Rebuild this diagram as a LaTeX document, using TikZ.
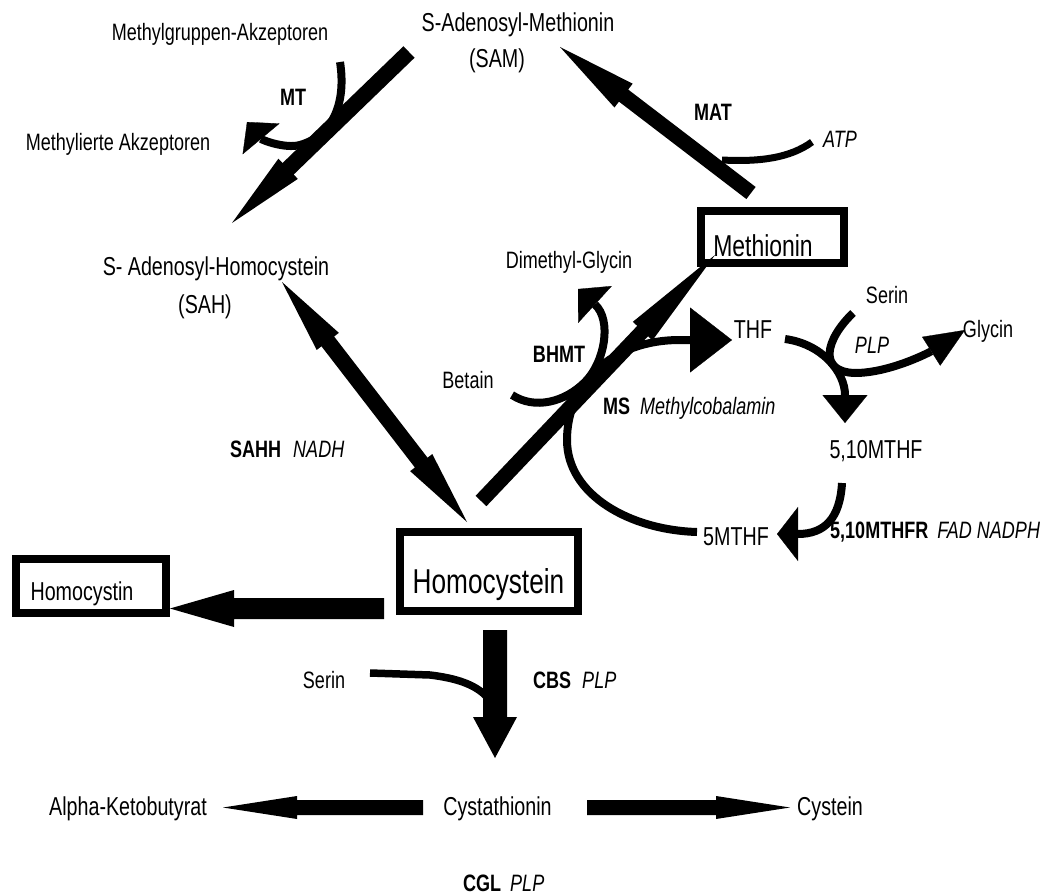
\documentclass[tikz,border=0pt]{standalone}
\usepackage{fontspec}
\setmainfont{Liberation Sans}[FakeStretch=0.76]
\usetikzlibrary{calc,arrows.meta}

% straight block arrow: tail, tip, half shaft, head length, half head width
\newcommand\barrow[5]{%
  \path ($(#2)!#4!(#1)$) coordinate (hb);
  \fill ($(#1)!#3!90:(#2)$) -- ($(hb)!#3!-90:(#1)$) -- ($(hb)!#5!-90:(#1)$) -- (#2)
     -- ($(hb)!#5!90:(#1)$) -- ($(hb)!#3!90:(#1)$) -- ($(#1)!#3!-90:(#2)$) -- cycle;}
% double block arrow: tip1, tip2, half shaft, head length, half head width
\newcommand\dbarrow[5]{%
  \path ($(#1)!#4!(#2)$) coordinate (ha) ($(#2)!#4!(#1)$) coordinate (hb);
  \fill (#1) -- ($(ha)!#5!90:(#2)$) -- ($(ha)!#3!90:(#2)$) -- ($(hb)!#3!-90:(#1)$)
     -- ($(hb)!#5!-90:(#1)$) -- (#2) -- ($(hb)!#5!90:(#1)$) -- ($(hb)!#3!90:(#1)$)
     -- ($(ha)!#3!-90:(#2)$) -- ($(ha)!#5!-90:(#2)$) -- cycle;}

\newcommand\fsmall{\fontsize{23.7}{28}\selectfont}
\newcommand\fmid{\fontsize{25.9}{30}\selectfont}

\tikzset{
  lbl/.style={inner sep=0pt, anchor=base, font=\fsmall},
  met/.style={inner sep=0pt, anchor=base, font=\fmid},
  enz/.style={inner sep=0pt, anchor=base west, font=\fsmall},
  boxed/.style={draw, line width=8pt, inner sep=0pt},
  curv/.style={line width=8pt},
  hd/.style args={#1/#2}{-{Triangle[length=#1pt,width=#2pt,line width=0.3pt]}}
}

\begin{document}
\begin{tikzpicture}[x=1pt,y=-1pt]
\useasboundingbox (0,0) rectangle (1049,896);

% ---------- boxes ----------
\node[boxed, minimum width=143pt, minimum height=52pt] (methbox) at (772.5,237) {};
\node[boxed, minimum width=178pt, minimum height=79pt] (hcybox) at (489,571.5) {};
\node[boxed, minimum width=150pt, minimum height=54pt] (hcinbox) at (91,586) {};

% ---------- texts ----------
\node[lbl] (mga) at (220,41) {Methylgruppen-Akzeptoren};
\node[met] (sam) at (518,32) {S-Adenosyl-Methionin};
\node[met] (samab) at (497,68) {(SAM)};
\node[lbl] (macc) at (118,151) {Methylierte Akzeptoren};
\node[lbl, font=\fsmall\bfseries] (mt) at (293,106) {MT};
\node[lbl, font=\fsmall\bfseries] (mat) at (713,121) {MAT};
\node[enz] (atp) at (823,148) {\itshape ATP};
\node[met] (sah) at (216,275) {S- Adenosyl-Homocystein};
\node[met] (sahab) at (205,313) {(SAH)};
\node[inner sep=0pt, anchor=base, font=\fontsize{30.2}{34}\selectfont] (meth) at (763,256) {Methionin};
\node[lbl] (dmg) at (569,268) {Dimethyl-Glycin};
\node[met] (thf) at (753,338) {THF};
\node[lbl] (serin1) at (887,303) {Serin};
\node[lbl] (glycin) at (988,337) {Glycin};
\node[lbl, font=\fsmall\itshape] (plp1) at (872,353) {PLP};
\node[lbl, font=\fsmall\bfseries] (bhmt) at (559,362) {BHMT};
\node[lbl] (betain) at (468,388) {Betain};
\node[enz] (ms) at (603,414) {\textbf{MS}\hspace{10pt}\textit{Methylcobalamin}};
\node[met] (mthf510) at (876,458) {5,10MTHF};
\node[met] (mthf5) at (736,545) {5MTHF};
\node[enz] (mthfr) at (830,538) {\textbf{5,10MTHFR}\hspace{9pt}\textit{FAD NADPH}};
\node[enz] (sahh) at (230,457) {\textbf{SAHH}\hspace{12pt}\textit{NADH}};
\node[inner sep=0pt, anchor=base, font=\fontsize{34.5}{38}\selectfont] (hcy) at (488.5,593) {Homocystein};
\node[met] (hcin) at (82,600) {Homocystin};
\node[lbl] (serin2) at (324,688) {Serin};
\node[enz] (cbs) at (533,688) {\textbf{CBS}\hspace{11pt}\textit{PLP}};
\node[met] (cysta) at (497.5,815) {Cystathionin};
\node[met, anchor=base east] (akb) at (207,815) {Alpha-Ketobutyrat};
\node[met, anchor=base west] (cys) at (797,815) {Cystein};
\node[enz] (cgl) at (463,891) {\textbf{CGL}\hspace{9pt}\textit{PLP}};

% ---------- arrow end points ----------
\coordinate (samS) at (409,52);   \coordinate (sahE) at (232,223);
\coordinate (metS) at (751,193);  \coordinate (samE) at (560,47);
\coordinate (sahT) at (282,282);  \coordinate (hcyT) at (467,522);
\coordinate (hcyS) at (481,501);  \coordinate (metE) at (715,255);
\coordinate (hcyL) at (384,608.5);\coordinate (hcinE) at (170,608.5);
\coordinate (hcyD) at (495,630);  \coordinate (cystaE) at (495,758);
\coordinate (cystaL) at (423,807.5); \coordinate (akbE) at (223,807.5);
\coordinate (cystaR) at (587,807.5); \coordinate (cysE) at (790,807.5);

% ---------- block arrows ----------
\barrow{samS}{sahE}{8pt}{78pt}{14pt}
\barrow{metS}{samE}{7.6pt}{80pt}{15pt}
\dbarrow{sahT}{hcyT}{8pt}{75pt}{14pt}
\barrow{hcyS}{metE}{7.5pt}{105pt}{13.5pt}
\barrow{hcyL}{hcinE}{10.5pt}{64pt}{18.5pt}
\barrow{hcyD}{cystaE}{12pt}{41pt}{22pt}
\barrow{cystaL}{akbE}{7.5pt}{74pt}{11.5pt}
\barrow{cystaR}{cysE}{7.5pt}{74pt}{11.5pt}

% ---------- curved side arrows ----------
\coordinate (mtS) at (340,62);   \coordinate (mtE) at (247,122);
\draw[curv, hd=22/48] (mtS) .. controls (346,100) and (335,135) .. (300,145)
   .. controls (285,149) and (262,140) .. (mtE);
\coordinate (atpS) at (812,142); \coordinate (atpE) at (722,160);
\draw[line width=7pt] (atpS) .. controls (790,158) and (760,162) .. (atpE);
\coordinate (betS) at (512,395); \coordinate (dmgE) at (578,289);
\draw[curv, hd=23/50] (betS) .. controls (535,410) and (565,402) .. (585,382)
   .. controls (605,362) and (612,320) .. (dmgE);
\coordinate (msS) at (697,532); \coordinate (thfE) at (732,340);
\draw[curv, hd=42/65] (msS) .. controls (630,530) and (567,495) .. (567,440)
   .. controls (567,385) and (610,340) .. (680,340) -- (thfE);
\coordinate (thfS) at (785,339); \coordinate (m510E) at (845,423);
\draw[curv, hd=28/45] (thfS) .. controls (822,344) and (845,372) .. (m510E);
\coordinate (serS) at (853,313); \coordinate (glyE) at (965,330);
\draw[curv, hd=40/34] (serS) .. controls (825,340) and (818,372) .. (855,373)
   .. controls (890,373) and (930,352) .. (glyE);
\coordinate (m510S) at (842,483); \coordinate (m5E) at (777,534);
\draw[curv, hd=21/54] (m510S) .. controls (840,518) and (825,534) .. (m5E);
\coordinate (ser2S) at (370,673); \coordinate (ser2E) at (487,697);
\draw[line width=7.5pt] (ser2S) -- (430,675) .. controls (455,678) and (475,684) .. (ser2E);
\end{tikzpicture}
\end{document}
